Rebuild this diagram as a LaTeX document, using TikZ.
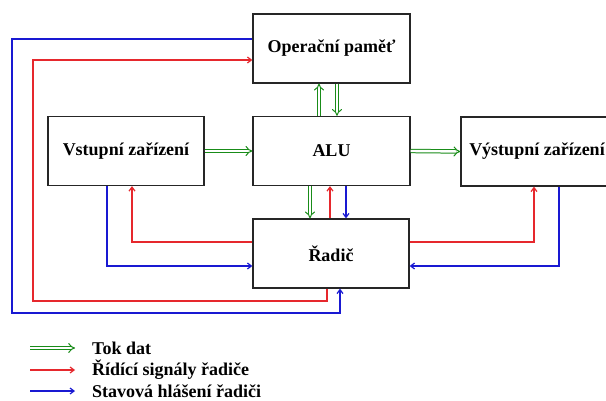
\documentclass[tikz,border=0pt]{standalone}
\usepackage{fontspec}
\setmainfont{Liberation Serif}
\usetikzlibrary{arrows.meta}
\definecolor{dgreen}{RGB}{25,140,25}
\definecolor{dred}{RGB}{230,40,45}
\definecolor{dblue}{RGB}{25,25,210}
\tikzset{
  box/.style={draw=black!85, line width=1.3pt, fill=white, minimum width=157pt,
    minimum height=69pt, inner sep=0pt, font=\bfseries\fontsize{18}{21}\selectfont},
  lab/.style={anchor=west, inner sep=0pt, font=\bfseries\fontsize{18}{21}\selectfont},
  data/.style={draw=dgreen, double=white, double distance=2.4pt, line width=1pt, -{Implies}},
  ctl/.style={draw=dred, line width=1.2pt, -{Straight Barb[length=4pt,width=6pt]}},
  stat/.style={draw=dblue, line width=1.2pt, -{Straight Barb[length=4pt,width=6pt]}}
}
\begin{document}
\begin{tikzpicture}[x=1pt,y=-1pt]
\clip (0,0) rectangle (606,401);
\fill[white] (0,0) rectangle (606,401);
% boxes
\node[box] (mem) at (331.5,48.5) {Operační paměť};
\node[box] (alu) at (331.5,151) {ALU};
\node[box, minimum width=156pt] (in) at (126,151) {Vstupní zařízení};
\node[box, minimum width=152pt] (out) at (537,151.5) {Výstupní zařízení};
\node[box, minimum width=156pt] (ctrl) at (331,253.5) {Řadič};
% data flow
\draw[data] (in.east) -- (alu.west);
\draw[data] (alu.east) -- (out.west);
\draw[data] (alu.north -| 319,0) -- (mem.south -| 319,0);
\draw[data] (mem.south -| 337,0) -- (alu.north -| 337,0);
\draw[data] (alu.south -| 310,0) -- (ctrl.north -| 310,0);
% control signals
\draw[ctl] (ctrl.north -| 330,0) -- (alu.south -| 330,0);
\draw[ctl] (ctrl.west |- 0,242) -| (in.south -| 132,0);
\draw[ctl] (ctrl.east |- 0,242) -| (out.south -| 534,0);
\draw[ctl] (ctrl.south -| 327,0) |- (33,301) |- (mem.west |- 0,60);
% status
\draw[stat] (alu.south -| 346,0) -- (ctrl.north -| 346,0);
\draw[stat] (in.south -| 107,0) |- (ctrl.west |- 0,266);
\draw[stat] (out.south -| 559,0) |- (ctrl.east |- 0,266);
\draw[stat] (mem.west |- 0,39) -| (12,313) -| (ctrl.south -| 340,0);
% legend
\coordinate (g1) at (30,348); \coordinate (g2) at (75,348);
\coordinate (r1) at (30,370); \coordinate (r2) at (75,370);
\coordinate (b1) at (30,391); \coordinate (b2) at (75,391);
\draw[data] (g1) -- (g2);
\draw[ctl] (r1) -- (r2);
\draw[stat] (b1) -- (b2);
\node[lab] (lg) at (92,348) {Tok dat};
\node[lab] (lr) at (92,370) {Řídící signály řadiče};
\node[lab] (lb) at (92,391) {Stavová hlášení řadiči};
\end{tikzpicture}
\end{document}
